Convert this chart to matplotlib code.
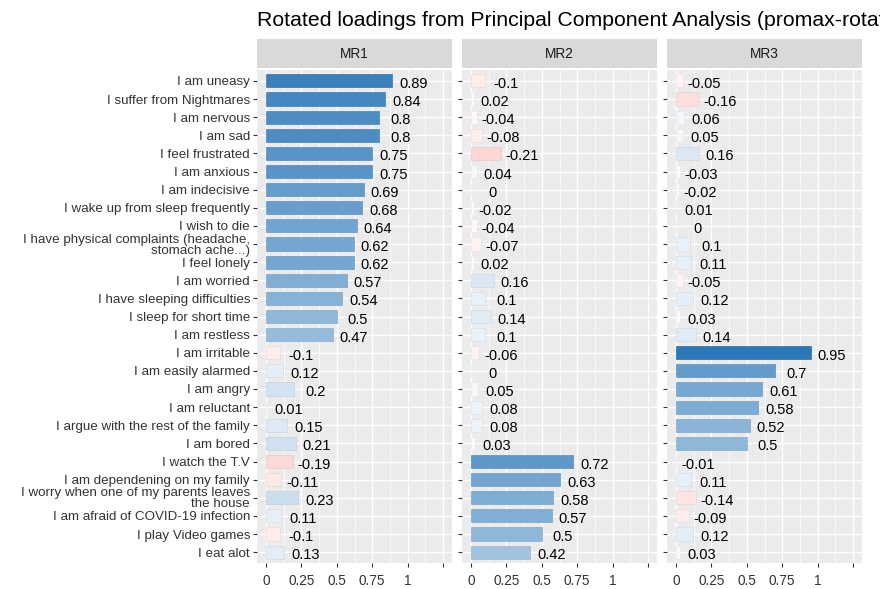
import numpy as np
import matplotlib
matplotlib.use("Agg")
import matplotlib.pyplot as plt
from matplotlib.colors import LinearSegmentedColormap, Normalize

plt.rcParams["font.family"] = ["Liberation Sans", "DejaVu Sans"]

# the title runs past the right edge in the original as well
TITLE = "Rotated loadings from Principal Component Analysis (promax-rotation)"

ITEMS = [
    "I am uneasy",
    "I suffer from Nightmares",
    "I am nervous",
    "I am sad",
    "I feel frustrated",
    "I am anxious",
    "I am indecisive",
    "I wake up from sleep frequently",
    "I wish to die",
    "I have physical complaints (headache,\nstomach ache...)",
    "I feel lonely",
    "I am worried",
    "I have sleeping difficulties",
    "I sleep for short time",
    "I am restless",
    "I am irritable",
    "I am easily alarmed",
    "I am angry",
    "I am reluctant",
    "I argue with the rest of the family",
    "I am bored",
    "I watch the T.V",
    "I am dependening on my family",
    "I worry when one of my parents leaves\nthe house",
    "I am afraid of COVID-19 infection",
    "I play Video games",
    "I eat alot",
]

FACTORS = ["MR1", "MR2", "MR3"]

MR1 = [0.89, 0.84, 0.8, 0.8, 0.75, 0.75, 0.69, 0.68, 0.64, 0.62, 0.62, 0.57, 0.54, 0.5,
       0.47, -0.1, 0.12, 0.2, 0.01, 0.15, 0.21, -0.19, -0.11, 0.23, 0.11, -0.1, 0.13]
MR2 = [-0.1, 0.02, -0.04, -0.08, -0.21, 0.04, 0, -0.02, -0.04, -0.07, 0.02, 0.16, 0.1, 0.14,
       0.1, -0.06, 0, 0.05, 0.08, 0.08, 0.03, 0.72, 0.63, 0.58, 0.57, 0.5, 0.42]
MR3 = [-0.05, -0.16, 0.06, 0.05, 0.16, -0.03, -0.02, 0.01, 0, 0.1, 0.11, -0.05, 0.12, 0.03,
       0.14, 0.95, 0.7, 0.61, 0.58, 0.52, 0.5, -0.01, 0.11, -0.14, -0.09, 0.12, 0.03]

X_TICKS = [0, 0.25, 0.5, 0.75, 1, 1.25]
X_TICK_LABELS = ["0", "0.25", "0.5", "0.75", "1", ""]

W, H = 880, 589
PANEL_LEFTS = [257, 462, 667]
PANEL_W = 195
PANEL_TOP, PANEL_BOTTOM = 70, 563
STRIP_TOP, STRIP_BOTTOM = 39, 68

fill_cmap = LinearSegmentedColormap.from_list("loadings", ["#EF3B2C", "#FFFFFF", "#2171B5"])
fill_norm = Normalize(-1, 1)


def px_box(left, top, width, height):
    return [left / W, 1 - (top + height) / H, width / W, height / H]


def draw_panel(fig, idx, name, values):
    left = PANEL_LEFTS[idx]
    ax = fig.add_axes(px_box(left, PANEL_TOP, PANEL_W, PANEL_BOTTOM - PANEL_TOP))
    ax.set_facecolor("#EBEBEB")
    n = len(ITEMS)
    y = np.arange(n)
    vals = np.array(values, dtype=float)

    fills = fill_cmap(fill_norm(vals))
    edges = fills.copy()
    edges[:, :3] *= 0.93
    ax.barh(y, np.abs(vals), height=0.72, color=fills, edgecolor=edges,
            linewidth=0.5, zorder=3)

    for yi, v in zip(y, vals):
        ax.text(abs(v) + 0.15, yi + 0.17, f"{v:g}", ha="center", va="center",
                fontsize=10.5, color="black", zorder=4)

    ax.set_xlim(-0.0625, 1.3125)
    ax.set_ylim(n - 1 + 0.6, -0.6)
    ax.set_xticks(X_TICKS)
    ax.set_xticklabels(X_TICK_LABELS)
    ax.set_xticks([0.125, 0.375, 0.625, 0.875, 1.125], minor=True)
    ax.set_yticks(y)
    if idx == 0:
        ax.set_yticklabels(ITEMS, linespacing=0.9)
    else:
        ax.set_yticklabels([])
        ax.tick_params(axis="y", length=0)

    ax.grid(which="major", color="white", linewidth=1.0, zorder=1)
    ax.grid(which="minor", axis="x", color="white", linewidth=0.5, zorder=1)
    ax.set_axisbelow(True)
    for s in ax.spines.values():
        s.set_visible(False)
    ax.tick_params(axis="both", which="major", length=3, width=0.8, color="#333333",
                   labelcolor="#333333")
    ax.tick_params(axis="y", labelsize=9.6, pad=2)
    ax.tick_params(axis="x", labelsize=9.8, pad=5)
    ax.tick_params(axis="x", which="minor", length=0)

    strip = fig.add_axes(px_box(left, STRIP_TOP, PANEL_W, STRIP_BOTTOM - STRIP_TOP))
    strip.set_facecolor("#D9D9D9")
    strip.set_xticks([])
    strip.set_yticks([])
    for s in strip.spines.values():
        s.set_visible(False)
    strip.text(0.5, 0.5, name, ha="center", va="center", fontsize=9.8,
               color="#1A1A1A", transform=strip.transAxes)
    return ax


def main():
    fig = plt.figure(figsize=(W / 100, H / 100), dpi=100)
    for i, (name, vals) in enumerate(zip(FACTORS, [MR1, MR2, MR3])):
        draw_panel(fig, i, name, vals)
    fig.text(257 / W, 1 - 20 / H, TITLE, ha="left", va="center", fontsize=15.3,
             color="black")
    fig.savefig("out.png", dpi=100)
    plt.close(fig)


if __name__ == "__main__":
    main()
